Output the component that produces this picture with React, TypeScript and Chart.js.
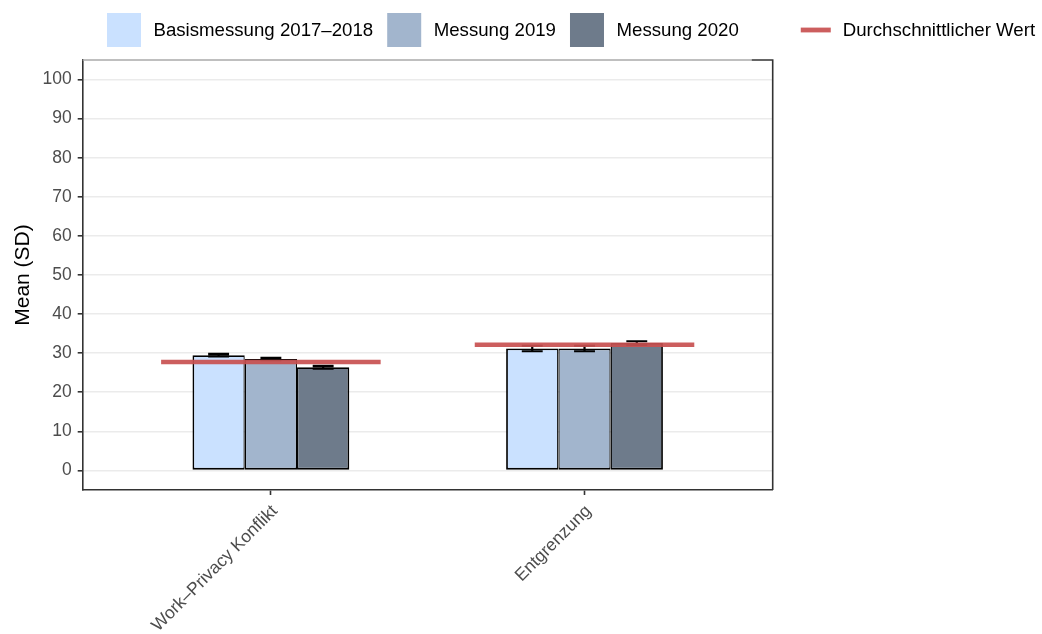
import React, { useEffect, useRef } from "react";
import { Chart, registerables } from "chart.js";

Chart.register(...registerables);

const categories = ["Work–Privacy Konflikt", "Entgrenzung"];
const seriesLabels = ["Basismessung 2017–2018", "Messung 2019", "Messung 2020"];
const basis = [29.5, 31.2];
const messung2019 = [28.5, 31.2];
const messung2020 = [26.4, 32.6];
const basisErr = [0.3, 0.7];
const messung2019Err = [0.3, 0.7];
const messung2020Err = [0.35, 0.45];
const average = [27.75, 32.15];
const avgLabel = "Durchschnittlicher Wert";
const yTicks = [0, 10, 20, 30, 40, 50, 60, 70, 80, 90, 100];
const yTitle = "Mean (SD)";

const barColors = ["#CAE1FF", "#A2B5CD", "#6E7B8B"];
const avgColor = "rgba(200,80,80,0.92)";
const FONT = "'Liberation Sans', Arial, Helvetica, sans-serif";

const errs = [basisErr, messung2019Err, messung2020Err];

const errorBarPlugin = {
  id: "errorBars",
  beforeDatasetDraw(chart: any, args: any) {
    if (args.meta.type !== "line") return;
    const ctx = chart.ctx;
    const y = chart.scales.y;
    ctx.save();
    ctx.strokeStyle = "#000";
    ctx.lineWidth = 2.2;
    for (let d = 0; d < 3; d++) {
      const meta = chart.getDatasetMeta(d);
      const vals = chart.data.datasets[d].data as any[];
      meta.data.forEach((el: any, i: number) => {
        const v = vals[i].y;
        const e = errs[d][i];
        const top = y.getPixelForValue(v + e);
        const bot = y.getPixelForValue(v - e);
        const hw = el.width * 0.2;
        ctx.beginPath();
        ctx.moveTo(el.x, top);
        ctx.lineTo(el.x, bot);
        ctx.moveTo(el.x - hw, top);
        ctx.lineTo(el.x + hw, top);
        ctx.moveTo(el.x - hw, bot);
        ctx.lineTo(el.x + hw, bot);
        ctx.stroke();
      });
    }
    ctx.restore();
  },
};

const framePlugin = {
  id: "frame",
  afterDraw(chart: any) {
    const { ctx, chartArea } = chart;
    const { left, right, top, bottom } = chartArea;
    ctx.save();
    ctx.lineWidth = 1.4;
    ctx.strokeStyle = "#AAAAAA";
    ctx.beginPath();
    ctx.moveTo(left, top);
    ctx.lineTo(right - 21, top);
    ctx.stroke();
    ctx.strokeStyle = "#333333";
    ctx.lineWidth = 1.6;
    ctx.beginPath();
    ctx.moveTo(right - 21, top);
    ctx.lineTo(right, top);
    ctx.lineTo(right, bottom);
    ctx.stroke();
    ctx.restore();
  },
};

const legendPlugin = {
  id: "customLegend",
  afterDraw(chart: any) {
    const ctx = chart.ctx;
    ctx.save();
    ctx.font = `18.65px ${FONT}`;
    ctx.textBaseline = "middle";
    ctx.textAlign = "left";
    const cy = 30;
    const key = 34;
    let x = 107;
    for (let i = 0; i < 3; i++) {
      const ds = chart.data.datasets[i];
      ctx.fillStyle = ds.backgroundColor;
      ctx.fillRect(x, cy - key / 2, key, key);
      x += key + 12.5;
      ctx.fillStyle = "#000";
      ctx.fillText(ds.label, x, cy + 1);
      x += ctx.measureText(ds.label).width + 14;
    }
    x += 48;
    const lds = chart.data.datasets[3];
    ctx.fillStyle = lds.borderColor;
    ctx.fillRect(x, cy - 2.4, 30, 4.8);
    x += 30 + 12;
    ctx.fillStyle = "#000";
    ctx.fillText(lds.label, x, cy + 1);
    ctx.restore();
  },
};

export default function App() {
  const ref = useRef<HTMLCanvasElement>(null);
  useEffect(() => {
    document.body.style.margin = "0";
    const avgData: any[] = [];
    average.forEach((v, i) => {
      if (i > 0) avgData.push({ x: i + 0.5, y: null });
      avgData.push({ x: i + 1 - 0.35, y: v });
      avgData.push({ x: i + 1 + 0.35, y: v });
    });
    const seriesVals = [basis, messung2019, messung2020];
    const borders = [
      { left: 1.8, right: 1.3, top: 1.8, bottom: 1.8 },
      { left: 1.3, right: 1.3, top: 1.8, bottom: 1.8 },
      { left: 1.3, right: 1.8, top: 1.8, bottom: 1.8 },
    ];
    const chart = new Chart(ref.current as HTMLCanvasElement, {
      type: "bar",
      data: {
        datasets: [
          ...seriesVals.map((vals, d) => ({
            type: "bar" as const,
            label: seriesLabels[d],
            data: vals.map((v, i) => ({ x: i + 1, y: v })),
            backgroundColor: barColors[d],
            borderColor: "#000",
            borderWidth: borders[d],
            borderSkipped: false,
            categoryPercentage: 0.5,
            barPercentage: 1,
            order: 1,
          })),
          {
            type: "line" as const,
            label: avgLabel,
            data: avgData,
            borderColor: avgColor,
            backgroundColor: avgColor,
            borderWidth: 4.6,
            pointRadius: 0,
            spanGaps: false,
            order: 0,
          },
        ] as any,
      },
      options: {
        animation: false,
        responsive: false,
        maintainAspectRatio: false,
        layout: { padding: { top: 60, right: 269.3, left: 0, bottom: 0 } },
        plugins: { legend: { display: false }, tooltip: { enabled: false } },
        scales: {
          x: {
            type: "linear",
            offset: false,
            min: 0.4,
            max: 2.6,
            afterBuildTicks: (s: any) => {
              s.ticks = categories.map((_, i) => ({ value: i + 1 }));
            },
            afterFit: (s: any) => {
              s.height = 144;
            },
            ticks: {
              callback: (v: any) => categories[Math.round(v) - 1] ?? "",
              minRotation: 45,
              maxRotation: 45,
              autoSkip: false,
              padding: 6,
              labelOffset: 4,
              color: "#4D4D4D",
              font: { family: FONT, size: 17.5 },
            },
            grid: {
              offset: false,
              drawOnChartArea: false,
              tickLength: 5,
              tickColor: "#333333",
              tickWidth: 1.6,
            },
            border: { color: "#333333", width: 1.6 },
          },
          y: {
            min: -5,
            max: 105,
            afterBuildTicks: (s: any) => {
              s.ticks = yTicks.map((v) => ({ value: v }));
            },
            afterFit: (s: any) => {
              s.width = 82.7;
            },
            ticks: {
              padding: 6,
              color: "#4D4D4D",
              font: { family: FONT, size: 17.5 },
            },
            grid: {
              color: "#EBEBEB",
              lineWidth: 1.6,
              tickLength: 5,
              tickColor: "#333333",
              tickWidth: 1.6,
            },
            border: { color: "#333333", width: 1.6 },
            title: {
              display: true,
              text: yTitle,
              color: "#000",
              font: { family: FONT, size: 21 },
              padding: { top: 11, bottom: 0 },
            },
          },
        },
      } as any,
      plugins: [errorBarPlugin, framePlugin, legendPlugin],
    });
    return () => chart.destroy();
  }, []);
  return (
    <div style={{ width: 1042, height: 634, position: "relative" }}>
      <canvas ref={ref} width={1042} height={634} style={{ width: 1042, height: 634, display: "block" }} />
    </div>
  );
}
